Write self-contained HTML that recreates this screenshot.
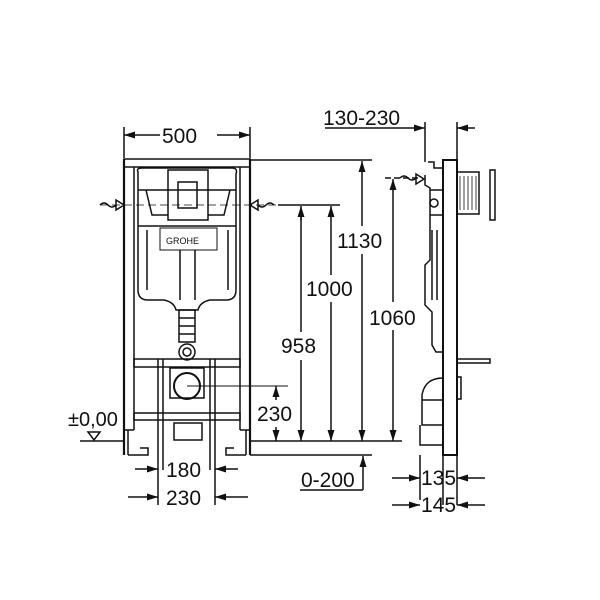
<!DOCTYPE html>
<html><head><meta charset="utf-8"><style>
html,body{margin:0;padding:0;background:#fff}
svg{display:block}
text{font-family:"Liberation Sans",Arial,sans-serif;fill:#111}
</style></head><body>
<svg width="600" height="600" viewBox="0 0 600 600" xmlns="http://www.w3.org/2000/svg">
<defs>
<marker id="a" markerWidth="11" markerHeight="7" refX="11" refY="3.5" orient="auto" markerUnits="userSpaceOnUse"><path d="M0,0 L11,3.5 L0,7 z" fill="#111"/></marker>
</defs>
<g stroke="#111" stroke-width="1.5" fill="none">
<line x1="124" y1="127" x2="124" y2="158"/><line x1="250" y1="127" x2="250" y2="158"/>
<line x1="140" y1="135" x2="124" y2="135" marker-end="url(#a)"/><line x1="234" y1="135" x2="250" y2="135" marker-end="url(#a)"/>
<line x1="140" y1="135" x2="160" y2="135"/><line x1="217" y1="135" x2="234" y2="135"/>
<rect x="124" y="159" width="126" height="8"/>
<line x1="124" y1="159" x2="124" y2="455" stroke-width="2.2"/><line x1="134" y1="167" x2="134" y2="430"/>
<line x1="250" y1="159" x2="250" y2="455" stroke-width="2.2"/><line x1="240" y1="167" x2="240" y2="430"/>
<path d="M124 430 H134 M240 430 H250 M128 430 V455 M246 430 V455"/>
<path d="M128 455 H148 V448 H140 M246 455 H226 V448 H234"/>
<rect x="134" y="359" width="106" height="8"/>
<rect x="134" y="413" width="106" height="7"/>
<path d="M138 172 Q136 168 142 168 H232 Q238 168 236 174 V290 Q236 300 226 300 H210 Q200 302 198 310 H176 Q174 302 164 300 H148 Q138 300 138 290 Z"/>
<rect x="168" y="170" width="40" height="50"/>
<rect x="178" y="182" width="19" height="26"/>
<line x1="138" y1="190" x2="236" y2="190"/>
<line x1="138" y1="226" x2="236" y2="226"/>
<path d="M146 190 L152 215 H168 M230 190 L224 215 H208"/>
<rect x="160" y="228" width="57" height="22" stroke-width="1"/>
<path d="M147 230 V290 M228 230 V290 M180 250 V300 M195 250 V300"/>
<rect x="179" y="310" width="16" height="32"/>
<path d="M179 318 H195 M179 326 H195 M179 334 H195"/>
<circle cx="187" cy="352" r="8"/><circle cx="187" cy="352" r="4"/>
<path d="M158 359 V470 M163 359 V470 M210 359 V470 M215 359 V470"/>
<rect x="170" y="368" width="34" height="30"/>
<circle cx="187" cy="386" r="13" stroke-width="2"/>
<rect x="174" y="423" width="28" height="17"/>
<path d="M100 205 q4 -4 8 0 t8 0 M116 200 l8 5 l-8 5 z M274 205 q-4 -4 -8 0 t-8 0 M258 200 l-8 5 l8 5 z"/>
<line x1="100" y1="205" x2="300" y2="205" stroke-dasharray="8 4" stroke-width="0.8"/>
<line x1="187" y1="386" x2="288" y2="386" stroke-width="1"/>
<line x1="250" y1="441" x2="402" y2="441"/>
<line x1="250" y1="455" x2="372" y2="455"/>
<line x1="250" y1="160" x2="372" y2="160"/>
<line x1="278" y1="205" x2="340" y2="205"/>
<line x1="385" y1="178" x2="420" y2="178" stroke-dasharray="6 3"/>
<line x1="276" y1="400" x2="276" y2="386" marker-end="url(#a)"/><line x1="276" y1="427" x2="276" y2="441" marker-end="url(#a)"/>
<line x1="301" y1="210" x2="301" y2="332"/><line x1="301" y1="360" x2="301" y2="441" marker-end="url(#a)"/><line x1="301" y1="220" x2="301" y2="206" marker-end="url(#a)"/>
<line x1="331" y1="220" x2="331" y2="275"/><line x1="331" y1="302" x2="331" y2="441" marker-end="url(#a)"/><line x1="331" y1="220" x2="331" y2="206" marker-end="url(#a)"/>
<line x1="362" y1="175" x2="362" y2="226"/><line x1="362" y1="254" x2="362" y2="441" marker-end="url(#a)"/><line x1="362" y1="175" x2="362" y2="161" marker-end="url(#a)"/>
<line x1="393" y1="192" x2="393" y2="302"/><line x1="393" y1="330" x2="393" y2="441" marker-end="url(#a)"/><line x1="393" y1="192" x2="393" y2="179" marker-end="url(#a)"/>
<line x1="363" y1="490" x2="363" y2="456" marker-end="url(#a)"/><line x1="300" y1="490" x2="363" y2="490"/>
<line x1="135" y1="469" x2="158" y2="469" marker-end="url(#a)"/><line x1="238" y1="469" x2="215" y2="469" marker-end="url(#a)"/>
<line x1="128" y1="497" x2="158" y2="497" marker-end="url(#a)"/><line x1="248" y1="497" x2="215" y2="497" marker-end="url(#a)"/>
<line x1="158" y1="470" x2="158" y2="505"/><line x1="215" y1="470" x2="215" y2="505"/>
<line x1="80" y1="441" x2="124" y2="441"/>
<path d="M88 432 L100 432 L94 440 Z"/>
<line x1="325" y1="128" x2="425" y2="128" marker-end="url(#a)"/>
<line x1="425" y1="122" x2="425" y2="162"/><line x1="457" y1="122" x2="457" y2="162"/>
<line x1="475" y1="128" x2="457" y2="128" marker-end="url(#a)"/>
<rect x="443" y="160" width="14" height="295" stroke-width="2"/>
<path d="M428 162 H434 V168 H443 M425 175 V185 L430 188 V260 L425 265 V305 L432 312 V345 L436 352 H443"/>
<path d="M430 190 H443 M430 215 H443 M432 230 V300 M437 230 V300"/>
<circle cx="434" cy="203" r="4"/>
<rect x="457" y="172" width="22" height="42"/>
<path d="M460 176 V210 M464 176 V210 M468 176 V210 M472 176 V210 M476 176 V210" stroke-width="0.8"/>
<rect x="490" y="170" width="5" height="50"/>
<path d="M457 359 H490 V363 H457"/>
<rect x="457" y="377" width="4" height="22"/>
<path d="M443 378 Q425 378 422 395 V400 H443 M422 400 V425 H443 M420 425 V445 H443" />
<path d="M400 178 q4 -4 8 0 t8 0 M416 174 l8 5 l-8 5 z"/>
<line x1="420" y1="455" x2="420" y2="500"/><line x1="443" y1="455" x2="443" y2="505"/><line x1="457" y1="455" x2="457" y2="505"/>
<line x1="392" y1="478" x2="420" y2="478" marker-end="url(#a)"/><line x1="485" y1="478" x2="457" y2="478" marker-end="url(#a)"/>
<line x1="392" y1="505" x2="420" y2="505" marker-end="url(#a)"/><line x1="485" y1="505" x2="457" y2="505" marker-end="url(#a)"/>
</g>
<g font-size="21">
<text x="162" y="143">500</text>
<text x="323" y="125">130-230</text>
<text x="337" y="248">1130</text>
<text x="306" y="296">1000</text>
<text x="369" y="325">1060</text>
<text x="281" y="353">958</text>
<text x="257" y="421">230</text>
<text x="68" y="426" font-size="20">±0,00</text>
<text x="166" y="477">180</text>
<text x="166" y="505">230</text>
<text x="301" y="487">0-200</text>
<text x="421" y="485">135</text>
<text x="421" y="512">145</text>
</g>
<text x="166" y="244" font-size="9">GROHE</text>
</svg>
</body></html>
